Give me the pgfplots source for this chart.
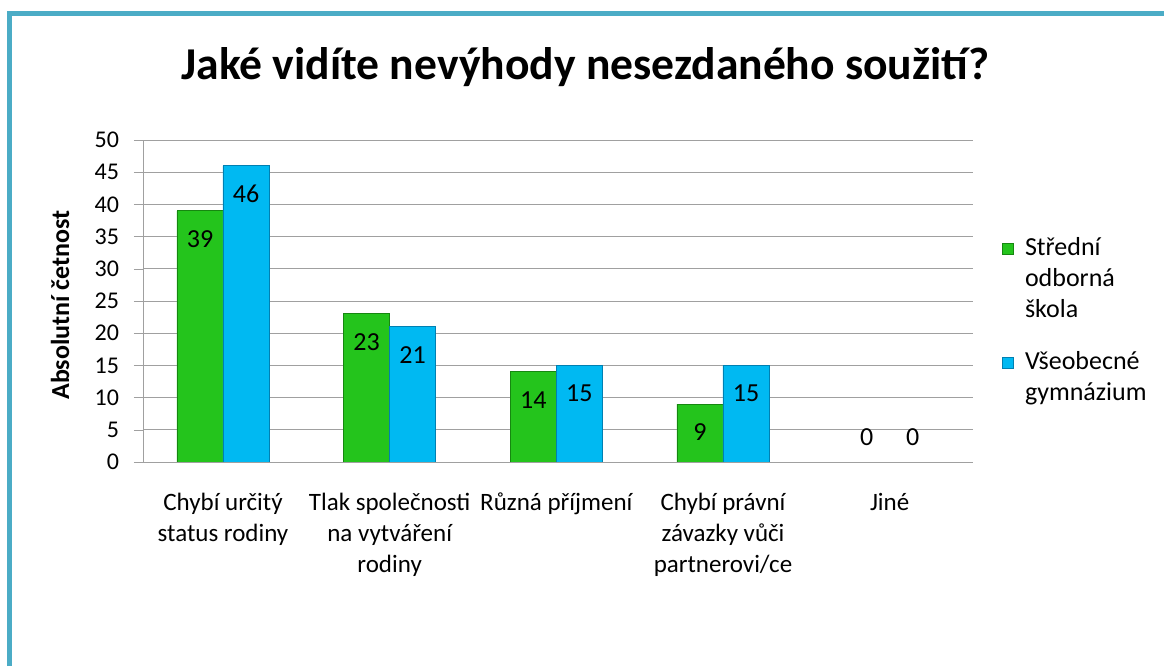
\documentclass[border=0pt]{standalone}
\usepackage{fontspec}
\setmainfont{Carlito}
\usepackage{pgfplots}
\pgfplotsset{compat=1.18}

\definecolor{frame}{RGB}{75,172,198}
\definecolor{sosfill}{RGB}{36,196,28}
\definecolor{sosedge}{RGB}{22,135,16}
\definecolor{gymfill}{RGB}{0,185,242}
\definecolor{gymedge}{RGB}{0,128,178}
\definecolor{gridc}{RGB}{160,160,160}

\begin{document}
\begin{tikzpicture}
\useasboundingbox (0,0) rectangle (582pt,333pt);
\fill[white] (0,0) rectangle (582pt,333pt);
\draw[frame, line width=2.5pt] (4.75pt,0) -- (4.75pt,326pt) -- (582pt,326pt);
\node[anchor=base, font=\fontsize{22.8}{27}\selectfont\bfseries] at (292.75pt,293.5pt)
  {Jaké vidíte nevýhody nesezdaného soužití?};

\begin{axis}[
  at={(71.5pt,102pt)}, anchor=south west,
  scale only axis, width=415pt, height=161pt,
  ybar=0pt, bar width=23pt,
  ymin=0, ymax=50, ytick={0,5,...,50},
  xmin=-0.48, xmax=4.5, xtick={0,...,4},
  xticklabels={{Chybí určitý\\status rodiny},
               {Tlak společnosti\\na vytváření\\rodiny},
               {Různá příjmení},
               {Chybí právní\\závazky vůči\\partnerovi/ce},
               {Jiné}},
  xticklabel style={align=center, font=\fontsize{12.5}{15.5}\selectfont, yshift=-7.5pt},
  yticklabel style={font=\fontsize{12}{14}\selectfont, xshift=-4pt},
  /pgf/number format/assume math mode=true,
  axis lines=left, axis line style={-, draw=gridc},
  xtick style={draw=none},
  ytick style={draw=gridc},
  tick align=outside, major tick length=4.5pt,
  ymajorgrids, grid style={gridc},
  ylabel={Absolutní četnost},
  ylabel style={at={(axis description cs:-0.1, 0.4876)}, anchor=center,
    font=\fontsize{13}{15}\selectfont\bfseries},
  visualization depends on={rawy \as \rawy},
  nodes near coords,
  every node near coord/.append style={font=\fontsize{13}{15}\selectfont, anchor=center,
    yshift={ifthenelse(\rawy>0,-14,12.5)}},
  legend style={draw=none, fill=none, inner sep=0pt,
    at={(axis description cs:1.0345,0.71)}, anchor=north west,
    row sep=42.5pt, column sep=3.5pt, font=\fontsize{13}{15.5}\selectfont,
    cells={anchor=base west}},
  legend image code/.code={\draw[#1, line width=0.5pt] (0pt,0.8pt) rectangle (5.5pt,6.3pt);},
]
\addplot[fill=sosfill, draw=sosedge] coordinates {(0,39) (1,23) (2,14) (3,9) (4,0)};
\addplot[fill=gymfill, draw=gymedge] coordinates {(0,46) (1,21) (2,15) (3,15) (4,0)};
\addlegendentry{\parbox[t]{70pt}{\baselineskip=15.5pt Střední\\odborná\\škola}}
\addlegendentry{\parbox[t]{70pt}{\baselineskip=15.5pt Všeobecné\\gymnázium}}
\end{axis}
% redraw the category axis line over the empty bars of "Jiné"
\draw[gridc] (71.5pt,102pt) -- (486.5pt,102pt);
\end{tikzpicture}
\end{document}
